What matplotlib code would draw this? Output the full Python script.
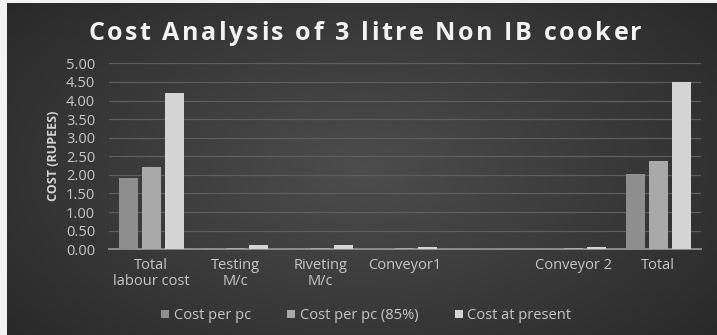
import numpy as np
import matplotlib
matplotlib.use("Agg")
import matplotlib.pyplot as plt
from matplotlib.font_manager import FontProperties

categories = ["Total\nlabour cost", "Testing\nM/c", "Riveting\nM/c", "Conveyor1", "", "Conveyor 2", "Total"]
cost_per_pc = [1.91, 0.03, 0.03, 0.01, 0.00, 0.01, 2.02]
cost_per_pc_85 = [2.22, 0.04, 0.04, 0.03, 0.00, 0.03, 2.38]
cost_at_present = [4.19, 0.12, 0.12, 0.05, 0.00, 0.05, 4.51]
series_names = ["Cost per pc", "Cost per pc (85%)", "Cost at present"]
y_ticks = np.arange(0, 5.01, 0.5)
title = "Cost Analysis of 3 litre Non IB cooker"

plt.rcParams['font.family'] = ['Open Sans', 'DejaVu Sans']
txt_color = "#c6c6c6"

fig = plt.figure(figsize=(7.17, 3.35), dpi=100, facecolor="#f2f2f2")

# dark radial-gradient backdrop
bg = fig.add_axes([7 / 717, 0, 1 - 7 / 717, 1 - 3 / 335], zorder=0)
yy, xx = np.mgrid[0:1:200j, 0:1:400j]
r = np.sqrt(((xx - 0.5) / 0.75) ** 2 + ((yy - 0.5) / 0.9) ** 2)
shade = 0.30 - 0.16 * np.clip(r, 0, 1)
bg.imshow(np.dstack([shade] * 3), aspect='auto', extent=[0, 1, 0, 1], interpolation='bilinear')
bg.set_axis_off()

ax = fig.add_axes([0.152, 0.256, 0.825, 0.555], zorder=1)
ax.patch.set_alpha(0)

x = np.arange(len(categories))
w = 0.225
off = 0.27
colors = ["#8e8e8e", "#a9a9a9", "#d4d4d4"]
for i, (vals, c, name) in enumerate(zip([cost_per_pc, cost_per_pc_85, cost_at_present], colors, series_names)):
    ax.bar(x + (i - 1) * off, vals, width=w, color=c, label=name, zorder=3)

ax.set_xlim(-0.5, len(categories) - 0.5)
ax.set_ylim(0, 5.0)
ax.set_yticks(y_ticks)
ax.set_yticklabels([f"{v:.2f}" for v in y_ticks], color=txt_color, fontsize=10.5)
ax.set_xticks(x)
ax.set_xticklabels(categories, color=txt_color, fontsize=10.5, linespacing=1.15)
ax.tick_params(axis='y', length=0, pad=10)
ax.tick_params(axis='x', length=0, pad=6)
ax.grid(axis='y', color="#5e5e5e", linewidth=0.9, zorder=0)
for s in ["top", "right", "left"]:
    ax.spines[s].set_visible(False)
ax.spines["bottom"].set_color("#8c8c8c")
ax.spines["bottom"].set_linewidth(1.4)

ax.set_ylabel("COST (RUPEES)", color="#d4d4d4", fontsize=9, fontweight='bold', labelpad=4)

# letter-spaced title
fp = FontProperties(family=['Open Sans', 'DejaVu Sans'], weight='bold', size=18)
fig.canvas.draw()
renderer = fig.canvas.get_renderer()
def _w(s):
    if not s:
        return 0.0
    return renderer.get_text_width_height_descent(s.replace(" ", "\u00a0"), fp, ismath=False)[0]
spacing = 2.6
total_w = _w(title) + spacing * (len(title) - 1)
cx = 365
x0 = cx - total_w / 2
fig_w = fig.get_figwidth() * fig.dpi
for k, ch in enumerate(title):
    if ch == " ":
        continue
    px = x0 + _w(title[:k]) + spacing * k
    fig.text(px / fig_w, 0.900, ch, ha='left', va='center', color="#f2f2f2", fontproperties=fp)

leg = fig.legend(loc='center', bbox_to_anchor=(0.511, 0.058), ncol=3, frameon=False,
                 fontsize=10.5, handlelength=0.55, handleheight=0.55, handletextpad=0.3,
                 columnspacing=2.5)
for t in leg.get_texts():
    t.set_color(txt_color)

fig.savefig("out.png", dpi=100, facecolor=fig.get_facecolor())
